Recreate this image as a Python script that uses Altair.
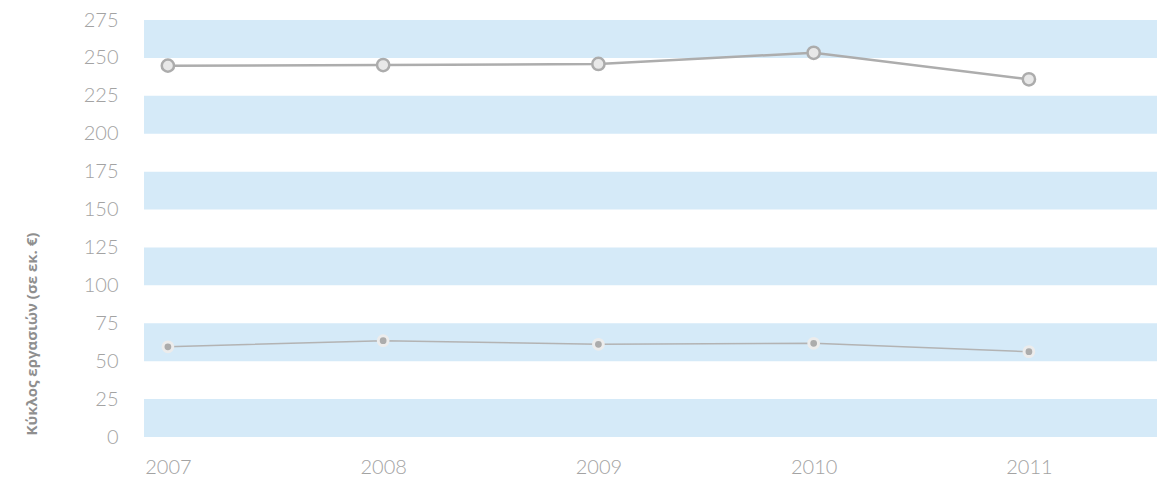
import altair as alt
import pandas as pd

years = [2007, 2008, 2009, 2010, 2011]
series_top = [244.9, 245.3, 246.0, 253.4, 235.9]
series_bottom = [59.5, 63.5, 61.1, 61.8, 56.3]
band_starts = [0, 50, 100, 150, 200, 250]
band_height = 25
y_ticks = list(range(0, 276, 25))

W, H = 1013, 417

df_top = pd.DataFrame({"year": years, "value": series_top})
df_bot = pd.DataFrame({"year": years, "value": series_bottom})
df_band = pd.DataFrame({"y0": band_starts, "y1": [b + band_height for b in band_starts]})

xscale = alt.Scale(domain=[2006.889, 2011.595], nice=False, zero=False)
yscale = alt.Scale(domain=[0, 275], nice=False)

label_font = "Lato"
label_color = "#a3a3a3"

yaxis = alt.Axis(values=y_ticks, grid=False, domain=False, ticks=False,
                 labelFont=label_font, labelFontSize=20, labelColor=label_color,
                 labelPadding=26, labelFontWeight=300, labelOverlap=False,
                 title="Κύκλος εργασιών (σε εκ. €)",
                 titleFont="Open Sans", titleFontSize=15, titleFontWeight="bold",
                 titleColor="#8f8f8f", titleAngle=270, titleAlign="left",
                 titleBaseline="middle", titleX=-113, titleY=415)

xaxis = alt.Axis(values=years, format="d", grid=False, domain=False, ticks=False,
                 labelFont=label_font, labelFontSize=20, labelColor=label_color,
                 labelPadding=20, labelFontWeight=300, labelOverlap=False, title=None)

bands = alt.Chart(df_band).mark_rect(color="#d5eaf8").encode(
    x=alt.value(0),
    x2=alt.value(W),
    y=alt.Y("y0:Q", scale=yscale, axis=yaxis),
    y2="y1:Q",
)

def enc(ch):
    return ch.encode(
        x=alt.X("year:Q", scale=xscale, axis=xaxis),
        y=alt.Y("value:Q", scale=yscale, axis=yaxis),
    )

top_line = enc(alt.Chart(df_top).mark_line(color="#adadad", strokeWidth=2.5))
top_pts = enc(alt.Chart(df_top).mark_point(
    shape="circle", filled=True, fill="#e8e8e8", stroke="#acacac", strokeWidth=2.5,
    size=150, opacity=1))
bot_line = enc(alt.Chart(df_bot).mark_line(color="#b3b3b3", strokeWidth=1.5))
bot_pts = enc(alt.Chart(df_bot).mark_point(
    shape="circle", filled=True, fill="#acacac", stroke="#ececec", strokeWidth=3,
    size=95, opacity=1))

chart = alt.layer(bands, top_line, top_pts, bot_line, bot_pts).properties(
    width=W, height=H,
    autosize=alt.AutoSizeParams(type="none"),
    padding={"left": 136, "top": 12, "right": 1, "bottom": 40},
    background="white",
).configure_view(stroke=None)

chart.save("out.html", embed_options={"renderer": "svg", "actions": False})
